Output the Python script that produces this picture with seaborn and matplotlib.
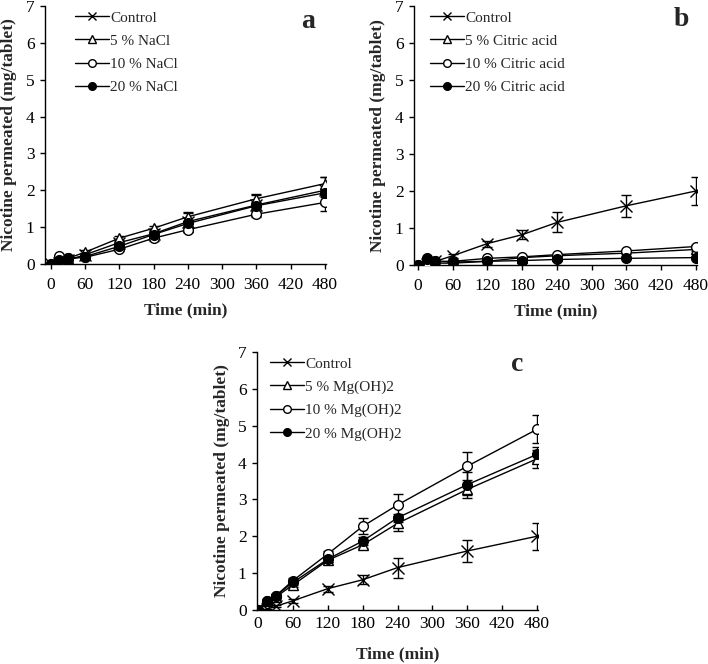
import numpy as np
import pandas as pd
import matplotlib
matplotlib.use("Agg")
import matplotlib.pyplot as plt
import seaborn as sns

time = [0, 15, 30, 60, 120, 180, 240, 360, 480]
xticks = [0, 60, 120, 180, 240, 300, 360, 420, 480]
yticks = [0, 1, 2, 3, 4, 5, 6, 7]

control = [0.0, 0.02, 0.1, 0.25, 0.58, 0.82, 1.15, 1.6, 2.0]
control_err = [0.0, 0.01, 0.03, 0.06, 0.08, 0.12, 0.27, 0.3, 0.37]

nacl_5 = [0.0, 0.1, 0.15, 0.32, 0.7, 0.97, 1.28, 1.77, 2.18]
nacl_5_err = [0.0, 0.02, 0.03, 0.05, 0.07, 0.07, 0.1, 0.1, 0.17]
nacl_10 = [0.0, 0.22, 0.15, 0.18, 0.4, 0.7, 0.93, 1.35, 1.67]
nacl_10_err = [0.0, 0.03, 0.03, 0.04, 0.06, 0.07, 0.07, 0.08, 0.22]
nacl_20 = [0.0, 0.12, 0.15, 0.2, 0.48, 0.8, 1.1, 1.58, 1.93]
nacl_20_err = [0.0, 0.02, 0.03, 0.04, 0.05, 0.06, 0.07, 0.08, 0.1]

cit_5 = [0.0, 0.05, 0.05, 0.05, 0.1, 0.2, 0.25, 0.32, 0.42]
cit_5_err = [0.0, 0.01, 0.01, 0.02, 0.02, 0.03, 0.03, 0.03, 0.04]
cit_10 = [0.0, 0.15, 0.1, 0.1, 0.18, 0.22, 0.28, 0.38, 0.5]
cit_10_err = [0.0, 0.02, 0.02, 0.02, 0.02, 0.03, 0.03, 0.03, 0.04]
cit_20 = [0.0, 0.18, 0.1, 0.08, 0.1, 0.12, 0.15, 0.18, 0.2]
cit_20_err = [0.0, 0.02, 0.02, 0.02, 0.02, 0.02, 0.02, 0.03, 0.03]

mg_5 = [0.0, 0.25, 0.35, 0.68, 1.35, 1.77, 2.35, 3.27, 4.1]
mg_5_err = [0.0, 0.03, 0.04, 0.06, 0.06, 0.1, 0.2, 0.14, 0.25]
mg_10 = [0.0, 0.25, 0.38, 0.8, 1.52, 2.27, 2.85, 3.9, 4.9]
mg_10_err = [0.0, 0.03, 0.05, 0.06, 0.07, 0.22, 0.3, 0.38, 0.38]
mg_20 = [0.0, 0.25, 0.38, 0.75, 1.38, 1.87, 2.5, 3.4, 4.22]
mg_20_err = [0.0, 0.03, 0.04, 0.06, 0.07, 0.1, 0.1, 0.35, 0.2]

panels = [
    ("a", ["Control", "5 % NaCl", "10 % NaCl", "20 % NaCl"],
     [control, nacl_5, nacl_10, nacl_20],
     [control_err, nacl_5_err, nacl_10_err, nacl_20_err]),
    ("b", ["Control", "5 % Citric acid", "10 % Citric acid", "20 % Citric acid"],
     [control, cit_5, cit_10, cit_20],
     [control_err, cit_5_err, cit_10_err, cit_20_err]),
    ("c", ["Control", "5 % Mg(OH)2", "10 % Mg(OH)2", "20 % Mg(OH)2"],
     [control, mg_5, mg_10, mg_20],
     [control_err, mg_5_err, mg_10_err, mg_20_err]),
]

sns.set_style("ticks")
plt.rcParams['font.family'] = ['Liberation Serif', 'DejaVu Serif']

W, H = 708, 664
fig = plt.figure(figsize=(W / 100, H / 100), dpi=100)

# layout in pixel coords
boxes = [(45, 6, 326, 264), (414, 6, 697, 265), (257, 352, 538, 610)]
xlims = [(-10, 482), (-7, 482), (-2, 482)]
xtick_dir = ['out', 'out', 'in']
xlabelpads = [7, 7, 10]
legend_left = [30, 16, 13]     # px from axes left to legend handle start
letter_pos = [(308, 22), (681, 20), (517, 365)]

styles = [
    dict(marker='x', mfc='black', ms=8),
    dict(marker='^', mfc='white', ms=7),
    dict(marker='o', mfc='white', ms=7),
    dict(marker='o', mfc='black', ms=7),
]

for k, ((letter, labels, series, errs), box, xl) in enumerate(zip(panels, boxes, xlims)):
    l, t, r, b = box
    ax = fig.add_axes([l / W, 1 - b / H, (r - l) / W, (b - t) / H])
    for i, (lab, ys, es, st) in enumerate(zip(labels, series, errs, styles)):
        df = pd.DataFrame({"time": time, "value": ys})
        sns.lineplot(data=df, x="time", y="value", ax=ax, color='black',
                     linewidth=1.0, marker=st['marker'], markersize=st['ms'],
                     markerfacecolor=st['mfc'], markeredgecolor='black',
                     markeredgewidth=1.0, label=lab, zorder=3 + i)
        ax.errorbar(time, ys, yerr=es, fmt='none', ecolor='black',
                    elinewidth=1.0, capsize=3.5, capthick=1.0, zorder=2)
    ax.set_xlim(*xl)
    ax.set_ylim(0, 7)
    ax.set_xticks(xticks)
    ax.set_yticks(yticks)
    ax.tick_params(axis='y', labelsize=12.5, direction='out', length=3.5,
                   width=1.0, colors='black', pad=4)
    ax.tick_params(axis='x', labelsize=12.5, direction=xtick_dir[k], length=3.5,
                   width=1.0, colors='black',
                   pad=5.5 if xtick_dir[k] == 'out' else 4.5)
    for s in ['top', 'right']:
        ax.spines[s].set_visible(False)
    for s in ['left', 'bottom']:
        ax.spines[s].set_linewidth(1.0)
        ax.spines[s].set_color('black')
    ax.set_xlabel("Time (min)", fontsize=12.5, fontweight='bold',
                  labelpad=xlabelpads[k])
    ax.set_ylabel("Nicotine permeated (mg/tablet)", fontsize=12.5,
                  fontweight='bold', labelpad=6)
    fx, fy = letter_pos[k]
    fig.text(fx / W, 1 - fy / H, letter, fontsize=20, fontweight='bold',
             ha='center', va='center')
    leg = ax.legend(loc='upper left',
                    bbox_to_anchor=((legend_left[k] - 3) / (r - l), 0.993),
                    frameon=False, fontsize=11, handlelength=2.2,
                    handletextpad=0.1, labelspacing=0.62, borderpad=0.2,
                    borderaxespad=0.0)
    for h in leg.legend_handles:
        h.set_markersize(5.5)

fig.savefig("out.png", dpi=100)
